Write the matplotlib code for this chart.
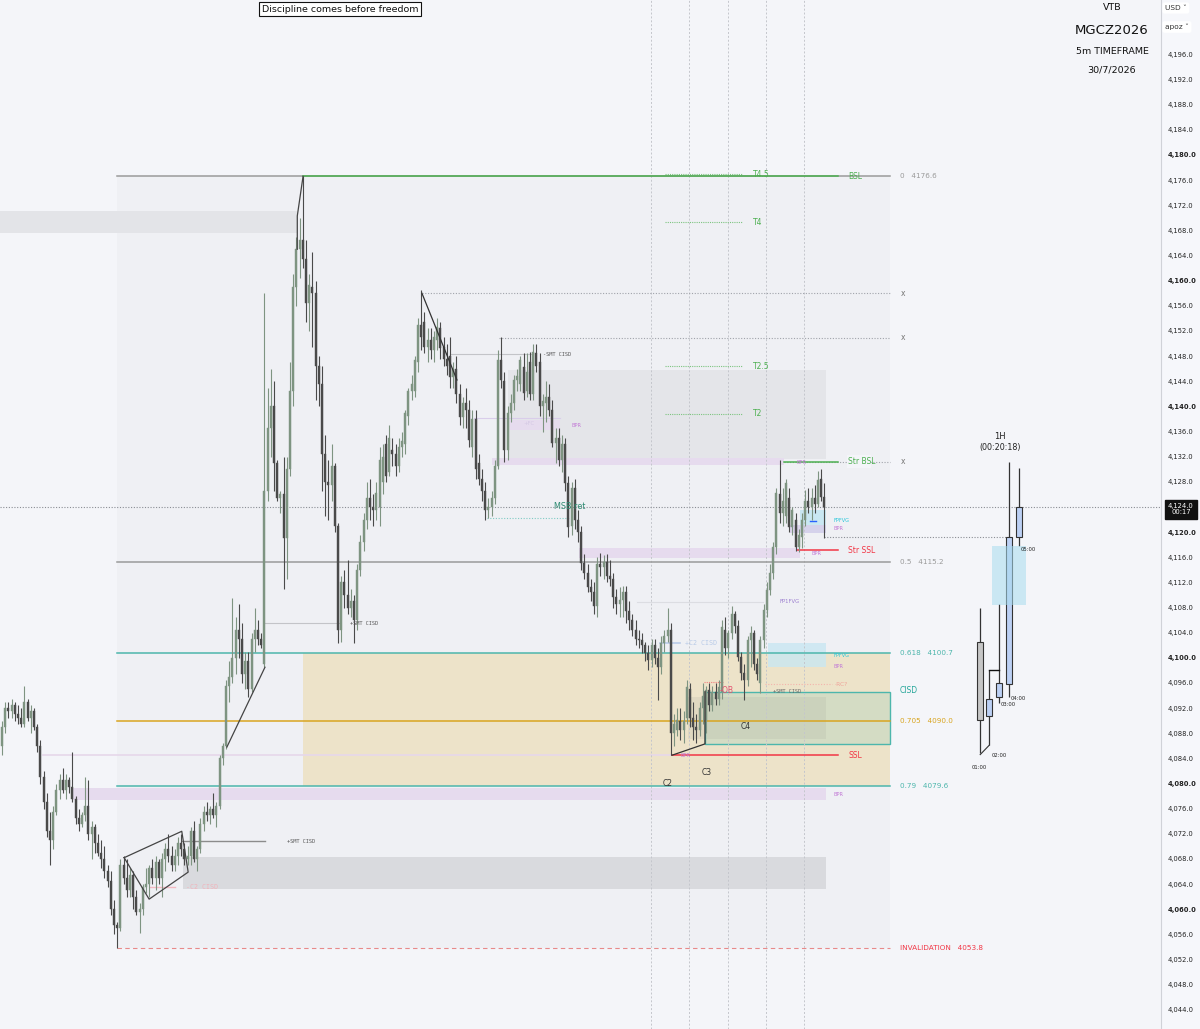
import matplotlib
matplotlib.use("Agg")
import matplotlib.pyplot as plt
import matplotlib.transforms as mtrans
from matplotlib.patches import Rectangle
import numpy as np

# ---------- 5m candles (MGCZ2026) ----------
opens = [
    4086, 4089, 4092, 4091.5, 4092.5, 4091, 4090.5, 4089.5, 4093, 4090.5,
    4091.5, 4089, 4086, 4081, 4077, 4072.5, 4071, 4075.5, 4079, 4080.5,
    4079, 4080.5, 4079.5, 4077.5, 4074.5, 4073.5, 4075, 4076.5, 4072, 4073,
    4070.5, 4069, 4068, 4066, 4064.5, 4060, 4057.5, 4057, 4067, 4065,
    4063, 4065.5, 4062, 4059.5, 4060, 4063.5, 4064, 4066.5, 4065, 4067.5,
    4065, 4068, 4069.5, 4068.5, 4067, 4068.5, 4070.5, 4069.5, 4068, 4068.5,
    4072.5, 4068, 4069.5, 4073.5, 4075.5, 4075, 4076, 4075, 4076.5, 4084,
    4086, 4095.5, 4097, 4100, 4104.5, 4103, 4097.5, 4099.5, 4095, 4103,
    4104.5, 4103, 4099, 4126.5, 4136.5, 4140, 4131, 4125.5, 4126, 4119,
    4130, 4142.5, 4159, 4165, 4166.5, 4163.5, 4156.5, 4159, 4158, 4146.5,
    4143.5, 4132.5, 4128, 4127.5, 4130.5, 4121, 4104.5, 4112, 4110, 4108,
    4109, 4106, 4114, 4118.5, 4122, 4125.5, 4124, 4123.5, 4124, 4128,
    4134, 4129.5, 4133, 4132.5, 4130.5, 4133.5, 4134, 4138.5, 4142.5, 4142.5,
    4147, 4153, 4153.5, 4149.5, 4150.5, 4149, 4150.5, 4152.5, 4149.5, 4147.5,
    4148, 4144.7, 4146, 4142, 4138.3, 4140.5, 4139.5, 4133.5, 4138, 4131,
    4128.5, 4126.5, 4123.5, 4124, 4125.5, 4130.5, 4147.4, 4144, 4133.1, 4139,
    4140.5, 4144.2, 4143.5, 4146.3, 4142.5, 4147, 4142, 4148.5, 4147, 4140,
    4140.5, 4141.5, 4139.5, 4134.2, 4135, 4131.5, 4134, 4127.8, 4121, 4127,
    4122, 4120, 4115.1, 4113.5, 4111.3, 4110.5, 4108.2, 4115, 4114.5, 4115.3,
    4113, 4112.5, 4109.7, 4108.5, 4109.2, 4110.5, 4107.5, 4106, 4104.4, 4103,
    4102.8, 4102, 4100.8, 4099.7, 4102, 4100, 4098.5, 4102.4, 4103.5, 4104.5,
    4088, 4088.5, 4090, 4088.5, 4090.5, 4095, 4090.5, 4089, 4088.5, 4092,
    4090, 4094.8, 4092.5, 4094.5, 4093.5, 4094.5, 4104.5, 4101.5, 4104, 4107,
    4105, 4100.1, 4097.6, 4096.5, 4102.8, 4104, 4099, 4096, 4102.8, 4107.6,
    4110.8, 4113.5, 4117.6, 4126, 4123, 4122.5, 4125.5, 4120.8, 4122, 4117.6,
    4119.2, 4122, 4125, 4124, 4125.5, 4124.5, 4128.5, 4125.6,
]
highs = [
    4090, 4093, 4093, 4093.5, 4093, 4092.5, 4092, 4095.5, 4093.5, 4092.5,
    4092, 4089.5, 4087, 4082, 4078.5, 4075.5, 4076.5, 4080, 4081.5, 4082.5,
    4081.5, 4081, 4085, 4078, 4076, 4075.5, 4081, 4080.5, 4074, 4073.5,
    4072, 4071, 4070, 4067, 4066, 4061.5, 4058, 4068, 4068.5, 4068,
    4066.5, 4066, 4063, 4061, 4064, 4066.5, 4067, 4068, 4068.5, 4068,
    4069, 4070.5, 4072, 4070, 4069.5, 4071.5, 4072, 4070.5, 4070, 4073,
    4074, 4070, 4074.5, 4076.5, 4077, 4076.5, 4078.5, 4077, 4084.5, 4086.5,
    4096.5, 4099.5, 4109.5, 4106.5, 4108.5, 4105.5, 4101, 4101, 4104, 4108,
    4106, 4104, 4158, 4143, 4146, 4144, 4131.5, 4126.5, 4132, 4132,
    4147, 4161, 4167, 4170, 4176.6, 4166.5, 4161, 4164.5, 4160, 4148,
    4146.5, 4135.5, 4131.5, 4134, 4131, 4121.5, 4113, 4114, 4115.5, 4111,
    4110, 4115, 4119.5, 4123, 4128, 4128.5, 4126, 4128, 4133.5, 4134,
    4135.5, 4137, 4135, 4134, 4135, 4136, 4139.5, 4143, 4145, 4148,
    4154, 4158.5, 4155, 4152.5, 4152.5, 4152, 4154, 4153.5, 4151, 4150,
    4151, 4147, 4148, 4143.5, 4141.5, 4143, 4141, 4139.5, 4139.5, 4132.5,
    4130, 4128, 4125.5, 4126.5, 4131.5, 4149, 4151, 4145.5, 4140, 4142,
    4145, 4146, 4148, 4148.5, 4148.5, 4148.7, 4150, 4150, 4148.5, 4142,
    4144, 4143.5, 4141, 4136.5, 4136.5, 4135.5, 4135, 4129, 4128, 4128.5,
    4123.5, 4121, 4116.5, 4115, 4112.5, 4112, 4116, 4116.7, 4116.3, 4116.5,
    4115.5, 4113.5, 4111, 4111.3, 4111.5, 4111.5, 4109, 4107, 4106, 4104.5,
    4104, 4102.5, 4102, 4103, 4103, 4101.5, 4103.5, 4104.5, 4108, 4105.5,
    4091, 4092, 4092, 4091.5, 4096.5, 4096, 4093, 4091, 4093, 4096,
    4095.5, 4096, 4095.5, 4096, 4096.5, 4106, 4106.5, 4104.5, 4108.2, 4107.5,
    4106, 4101, 4099, 4103.5, 4105, 4104.5, 4100, 4103.5, 4108.5, 4112,
    4115, 4118.5, 4127, 4131.5, 4127, 4128.5, 4127, 4124, 4123, 4120.5,
    4123, 4126.7, 4127, 4127, 4127.5, 4129.8, 4130, 4127.8,
]
lows = [
    4084.5, 4088, 4090.5, 4090.5, 4090, 4089.5, 4089, 4089, 4090, 4088,
    4088.5, 4085, 4080, 4076, 4071.5, 4067, 4069.5, 4075, 4077.5, 4078.5,
    4077.5, 4078.5, 4077, 4073.5, 4072.5, 4073, 4074, 4071, 4068, 4069,
    4068.5, 4066.5, 4065, 4063.5, 4059, 4056, 4053.8, 4056.5, 4064, 4062,
    4062, 4060, 4059, 4056.2, 4059, 4062.5, 4062, 4064, 4063, 4064,
    4062, 4066, 4067.5, 4066, 4066, 4067, 4068.5, 4067, 4067, 4067,
    4067.5, 4066, 4069, 4072.5, 4074, 4073.5, 4074.5, 4073, 4076, 4083,
    4085.5, 4093, 4096, 4097.5, 4100, 4096, 4095, 4093.8, 4094.5, 4101,
    4102, 4101.5, 4098.5, 4125, 4132, 4126.5, 4125, 4123, 4111, 4112.5,
    4129, 4140, 4156, 4160.5, 4162, 4153.5, 4152, 4149.5, 4141, 4140,
    4126.5, 4122.5, 4122, 4125, 4120, 4102.3, 4102.5, 4108, 4107, 4106.5,
    4102.4, 4104.5, 4113, 4117, 4120.5, 4122, 4121, 4122, 4121, 4126,
    4128, 4129, 4130.5, 4129, 4129.5, 4132, 4132.5, 4137, 4141, 4141.5,
    4145.5, 4149, 4148.5, 4147, 4147.5, 4147, 4149, 4147.5, 4146.5, 4145,
    4143, 4143, 4140.5, 4137, 4136.5, 4136.5, 4133.5, 4132, 4128.5, 4127.5,
    4125, 4122, 4122.2, 4122.5, 4124.5, 4130, 4143, 4131.2, 4131.5, 4137.5,
    4139.5, 4142.5, 4142.5, 4141, 4141.5, 4141, 4141, 4145.5, 4138.5, 4136,
    4137.5, 4138.5, 4133.5, 4131, 4130.5, 4129.5, 4126.5, 4119.2, 4119.5, 4120.5,
    4118.5, 4114, 4112.5, 4110.5, 4109, 4107, 4106.5, 4113, 4112.5, 4112,
    4111.5, 4108, 4107, 4106.5, 4106.5, 4105.5, 4104.5, 4103.5, 4102, 4101.5,
    4100.8, 4099.5, 4098, 4098.5, 4099, 4093.3, 4097.5, 4101, 4102.5, 4084.6,
    4086, 4087.5, 4087, 4086.5, 4089.5, 4089, 4087, 4086.5, 4087.5, 4089.5,
    4088, 4091.5, 4091.5, 4092.5, 4092.5, 4093.5, 4100.5, 4100, 4103, 4104,
    4099.5, 4096.5, 4093.3, 4095.5, 4098.5, 4098, 4096.5, 4094.4, 4101.5, 4106.5,
    4110, 4112.5, 4116.5, 4121.5, 4121, 4121.5, 4120, 4119.5, 4117, 4116.8,
    4117.5, 4121, 4123, 4122, 4123, 4124, 4125, 4119,
]
closes = [
    4089, 4092, 4091.5, 4092.5, 4091, 4090.5, 4089.5, 4093, 4090.5, 4091.5,
    4089, 4086, 4081, 4077, 4072.5, 4071, 4075.5, 4079, 4080.5, 4079,
    4080.5, 4079.5, 4077.5, 4074.5, 4073.5, 4075, 4076.5, 4072, 4073, 4070.5,
    4069, 4068, 4066, 4064.5, 4060, 4057.5, 4057, 4067, 4065, 4063,
    4065.5, 4062, 4059.5, 4060, 4063.5, 4064, 4066.5, 4065, 4067.5, 4065,
    4068, 4069.5, 4068.5, 4067, 4068.5, 4070.5, 4069.5, 4068, 4068.5, 4072.5,
    4068, 4069.5, 4073.5, 4075.5, 4075, 4076, 4075, 4076.5, 4084, 4086,
    4095.5, 4097, 4100, 4104.5, 4103, 4097.5, 4099.5, 4095, 4103, 4104.5,
    4103, 4102, 4126.5, 4136.5, 4140, 4131, 4125.5, 4126, 4119, 4130,
    4142.5, 4159, 4165, 4166.5, 4163.5, 4156.5, 4159.3, 4158, 4146.5, 4143.5,
    4132.5, 4128, 4127.5, 4130.5, 4121, 4104.5, 4112, 4110, 4108, 4109,
    4106, 4114, 4118.5, 4122, 4125.5, 4124, 4123.5, 4126.2, 4131.5, 4132,
    4129, 4135, 4132.5, 4130.5, 4133.5, 4134.5, 4139, 4142.5, 4143.5, 4147.4,
    4153, 4151, 4149.5, 4150.5, 4149, 4151, 4152.6, 4149.3, 4147.5, 4146.5,
    4144.7, 4146, 4142, 4138.3, 4140.5, 4139.5, 4134.7, 4138, 4130, 4128.5,
    4126.5, 4123.5, 4124, 4125.5, 4130.5, 4147.4, 4144.2, 4133.1, 4139, 4140.5,
    4144.2, 4144.8, 4147.4, 4142.1, 4145.5, 4142, 4148.7, 4146.5, 4140, 4140.8,
    4141.5, 4139.5, 4134.2, 4135, 4131.5, 4134, 4127.8, 4120.8, 4127, 4122,
    4120, 4115.1, 4113.5, 4111.3, 4110.5, 4108.2, 4115, 4114.5, 4115.3, 4113,
    4112.5, 4109.7, 4108.5, 4109.2, 4110.5, 4107.5, 4106, 4104.4, 4103, 4102.8,
    4102, 4100.8, 4099.7, 4102, 4100, 4098.5, 4102.4, 4103.5, 4104.5, 4088,
    4089.5, 4090.1, 4088.5, 4090, 4095.4, 4090.5, 4089, 4088.5, 4092, 4094,
    4094.8, 4092.5, 4094.5, 4093.5, 4095.4, 4104.9, 4101.5, 4104, 4107, 4105,
    4100.1, 4097.6, 4096.5, 4102.8, 4104, 4099, 4097.5, 4102.8, 4107.6, 4110.8,
    4113.5, 4117.6, 4126.2, 4123, 4125, 4127.8, 4120.8, 4123.5, 4117.6, 4119.5,
    4121.9, 4125, 4124, 4125.5, 4124.5, 4128.3, 4125.6, 4124,
]

# ---------- 1H widget ----------
h1_open = [4102.5, 4090.7, 4093.7, 4095.8, 4119.2]
h1_high = [4108.0, 4098.0, 4108.6, 4131.2, 4130.2]
h1_low = [4084.8, 4086.1, 4092.8, 4093.7, 4117.8]
h1_close = [4090.1, 4093.5, 4096.0, 4119.2, 4124.0]
h1_labels = ["01:00", "02:00", "03:00", "04:00", "05:00"]

# ---------- levels ----------
fib_levels = ["0", "0.5", "0.618", "0.705", "0.79"]
fib_prices = [4176.6, 4115.2, 4100.7, 4090.0, 4079.6]
fib_colors = ["#9a9a9a", "#9a9a9a", "#4db6ac", "#d9a520", "#4db6ac"]
invalidation = 4053.8
last_price = 4124.0
countdown = "00:17"
targets = ["T4.5", "T4", "T2.5", "T2"]
target_prices = [4176.9, 4169.3, 4146.4, 4138.8]
x_marks = [4158.0, 4150.9, 4131.2]
str_bsl, str_ssl, ssl = 4131.2, 4117.1, 4084.5
price_ticks = np.arange(4044, 4197, 4)

UP, DOWN = "#7e9481", "#4a4a4a"
BG = "#f4f5f9"
GREEN, RED, TEAL, PURPLE = "#4caf50", "#f23645", "#26a69a", "#c27ad6"

fig = plt.figure(figsize=(12, 10.29), dpi=100, facecolor="#f6f7fb")
ax = fig.add_axes([0, 0, 1161 / 1200, 1])
ax.set_facecolor(BG)
ax.set_xlim(-0.6, 362.2)
ax.set_ylim(4040.94, 4204.66)

R0, R1 = 35.9, 277.5   # fib range, left/right bar


def box(x0, x1, y0, y1, fc, z=1, **kw):
    ax.add_patch(Rectangle((x0, y0), x1 - x0, y1 - y0, facecolor=fc, edgecolor=kw.pop("ec", "none"),
                           zorder=z, **kw))


def hl(y, x0, x1, c, lw=1, ls="-", z=2):
    ax.plot([x0, x1], [y, y], color=c, lw=lw, ls=ls, zorder=z)


def lab(x, y, s, c, fs=5.5, ha="left", va="center", **kw):
    ax.text(x, y, s, color=c, fontsize=fs, ha=ha, va=va, zorder=6, **kw)


# zones
box(R0, R1, invalidation, fib_prices[0], "#eff0f4", z=0.5)
box(-0.6, 92.2, 4167.6, 4171.1, "#e3e4e8")
box(158.1, 257.5, 4131.7, 4145.8, "#e4e5e9")
box(56.6, 257.5, 4063.2, 4068.3, "#d9dade")
box(94.1, R1, fib_prices[4], fib_prices[2], "#ede3c9")
box(219.7, R1, 4086.3, 4094.6, "#d4dcc4", z=1.2, ec="#4db6ac", lw=1)
box(214.4, 257.5, 4087.1, 4093.7, "#8a8a8a", z=1.3, alpha=0.12)
box(239.4, 257.5, 4098.5, 4102.4, "#c9e7f2", z=1.3, alpha=0.8)
box(249.4, 257.5, 4119.9, 4123.5, "#c9e7f2", z=1.3)
box(246.3, 257.5, 4119.9, 4121.1, "#d9cdea", z=1.35, alpha=0.8)
# BPR bands
box(153.0, 244.4, 4130.6, 4131.8, "#e6dbee", z=1.4)
box(158.75, 174.4, 4136.2, 4137.8, "#e6dbee", z=1.4)
box(180.3, 249.4, 4115.9, 4117.5, "#e6dbee", z=1.4)
box(21.9, 257.5, 4077.4, 4079.3, "#e6dbee", z=1.4)
hl(4138.1, 147.5, 174.4, "#d9cdea", lw=0.8)
hl(ssl, 12.8, 209.4, "#e6d7ea", lw=1.2, z=1.5)

# hourly separators
for k in range(5):
    ax.axvline(202.75 + 12 * k, color="#c4c6cc", lw=0.7, ls=(0, (2, 2)), zorder=1.6)

# fib lines + labels
for lvl, p, c in zip(fib_levels, fib_prices, fib_colors):
    hl(p, R0, R1, c, lw=1.1)
    lab(280.6, p, f"{lvl}   {p:.1f}", c, fs=5.2)
hl(invalidation, R0, R1, "#e88a8a", lw=0.8, ls=(0, (4, 3)))
lab(280.6, invalidation, f"INVALIDATION   {invalidation:.1f}", RED, fs=5.2)
hl(fib_prices[0], 94.1, 261.2, GREEN, lw=1.1, z=2.1)
lab(264.4, fib_prices[0], "BSL", GREEN)

# targets
for t, p in zip(targets, target_prices):
    hl(p, 207.2, 231.25, "#7cc47f", lw=0.8, ls=(0, (1, 1)))
    lab(234.7, p, t, GREEN, fs=5.5)

# swing levels
for p, x0 in zip(x_marks, [131.25, 155.3, 244.4]):
    hl(p, x0, R1, "#a0a3aa", lw=0.8, ls=(0, (1, 1.5)))
    lab(281.0, p, "x", "#777", fs=5.5)
hl(str_bsl, 244.4, 261.2, GREEN, lw=1.1, z=2.2)
box(264.0, 271.5, str_bsl - 1, str_bsl + 1, BG, z=2.3)
lab(264.4, str_bsl, "Str BSL", GREEN)
hl(str_ssl, 248.4, 261.2, RED, lw=1.1)
lab(264.4, str_ssl, "Str SSL", RED)
hl(ssl, 209.4, 261.2, RED, lw=1.1)
lab(264.4, ssl, "SSL", RED)
lab(280.6, 4094.8, "CISD", TEAL)

# current price / 1H open
ax.axhline(last_price, color="#8a8d94", lw=0.8, ls=(0, (1, 1.5)), zorder=2)
hl(4119.2, 256.9, 314.6, "#8a8d94", lw=0.8, ls=(0, (1, 1.5)))
hl(4122.2, 151.6, 177.5, "#80cbc4", lw=0.8, ls=(0, (1, 1.5)))
hl(4108.9, 198.4, 237.8, "#dcdde2", lw=0.8)
hl(4096.2, 219.3, 225.6, "#f08080", lw=0.8, ls=(0, (1, 1)))
hl(4095.8, 238.4, 259.5, "#f4b4ac", lw=0.8, ls=(0, (1, 1.5)))
hl(4102.4, 205.6, 211.9, "#b9cbe8", lw=1.2)
hl(4063.5, 46.25, 54.1, "#f3b9c1", lw=1.0)
hl(4070.8, 56.25, 82.2, "#8c8c8c", lw=1.0)
hl(4105.5, 82.2, 105.6, "#c3c4c8", lw=0.8)
hl(4148.3, 140.0, 166.0, "#c3c4c8", lw=0.8)
hl(4121.8, 252.5, 254.5, "#2962ff", lw=1.0, z=2.5)

# drawn structure lines
ax.plot([92.3, 92.3, 94.1], [4165.0, 4170.3, fib_prices[0]], color="#444", lw=0.9, zorder=4)
ax.plot([131.25, 142.2], [4158.0, 4144.2], color="#333", lw=0.9, zorder=4)
ax.plot([70.3, 82.2], [4085.8, 4098.5], color="#444", lw=0.9, zorder=4)
ax.plot([38.2, 56.2, 58.2, 46.0, 38.2], [4068.2, 4072.4, 4065.9, 4061.6, 4068.2],
        color="#444", lw=0.9, zorder=4)
ax.plot([209.4, 219.7, 219.7], [ssl, 4086.3, 4094.6], color="#333", lw=0.9, zorder=4)

# candles
x = np.arange(len(closes))
o, h, l, c = map(np.asarray, (opens, highs, lows, closes))
col = np.where(c >= o, UP, DOWN)
ax.vlines(x, l, h, colors=col, lw=0.8, zorder=3)
ax.bar(x, np.maximum(np.abs(c - o), 0.15), bottom=np.minimum(o, c), width=0.62,
       color=col, edgecolor=col, lw=0.3, zorder=3.1)

# small annotation texts
mono = dict(family="DejaVu Sans Mono")
lab(89.1, 4070.8, "+SMT CISD", "#555", fs=3.8, **mono)
lab(108.8, 4105.5, "+SMT CISD", "#555", fs=3.8, **mono)
lab(169.1, 4148.3, "-SMT CISD", "#555", fs=3.8, **mono)
lab(240.9, 4094.6, "+SMT CISD", "#666", fs=3.8, **mono)
lab(57.5, 4063.5, "-C2 CISD", "#f1b3bb", fs=4.8, **mono)
lab(213.5, 4102.4, "+C2 CISD", "#b9cbe8", fs=4.8, **mono)
lab(163.0, 4137.2, "+FC", "#d4c8e4", fs=3.8)
lab(224.4, 4094.8, "-OB", "#e2536f", fs=5.5)
lab(260.3, 4095.8, "-RC?", "#f0a49a", fs=4.2)
lab(177.5, 4124.0, "MSB ret", "#2e8b72", fs=5.8, ha="center")
lab(232.5, 4089.0, "C4", "#333", fs=5.5, ha="center")
lab(220.3, 4081.8, "C3", "#333", fs=5.5, ha="center")
lab(208.1, 4080.0, "C2", "#333", fs=5.5, ha="center")
lab(242.9, 4108.9, "FP1FVG", "#9c7fd0", fs=3.8)
for xx, yy, s, cc in [(260.0, 4121.8, "FPFVG", "#26c6da"), (260.0, 4100.3, "FPFVG", "#26c6da"),
                      (178.1, 4137.0, "BPR", PURPLE), (248.4, 4131.0, "BPR", PURPLE),
                      (253.1, 4116.6, "BPR", PURPLE), (260.0, 4120.6, "BPR", PURPLE),
                      (260.0, 4098.6, "BPR", PURPLE), (260.0, 4078.3, "BPR", PURPLE),
                      (211.9, 4084.4, "BPR", PURPLE)]:
    lab(xx, yy, s, cc, fs=3.6)

# 1H widget
hx = 305.5 + 3.05 * np.arange(5)
ho, hh, hlw, hc = map(np.asarray, (h1_open, h1_high, h1_low, h1_close))
hcol = np.where(hc >= ho, "#bcd0f4", "#c6c6c6")
ax.vlines(hx, hlw, hh, colors="#333", lw=0.9, zorder=3)
ax.bar(hx, np.abs(hc - ho), bottom=np.minimum(ho, hc), width=1.9, color=hcol,
       edgecolor="#333", lw=0.8, zorder=3.2)
box(309.5, 319.9, 4108.4, 4117.8, "#a9dcef", z=3.3, alpha=0.55)
ax.plot([hx[1], hx[2]], [h1_high[1], h1_high[1]], color="#111", lw=1.0, zorder=3.4)
ax.plot([hx[0] + 0.2, hx[1]], [h1_low[0] - 0.2, h1_low[1]], color="#333", lw=0.8, zorder=3.4)
for xx, s, yy in zip(hx, h1_labels, [4083.0, 4084.8, 4093.0, 4094.0, 4117.6]):
    ax.text(xx + (0 if s == "01:00" else 0.6), yy, s, fontsize=3.8, color="#222",
            ha="center" if s == "01:00" else "left", va="top", zorder=6)
ax.text(311.9, 4135.2, "1H", fontsize=6, color="#222", ha="center", va="center")
ax.text(311.9, 4133.4, "(00:20:18)", fontsize=5.8, color="#222", ha="center", va="center")

# header
ax.text(340 / 1161, 1 - 9 / 1029, "Discipline comes before freedom", transform=ax.transAxes,
        fontsize=6.8, ha="center", va="center", color="#111",
        bbox=dict(boxstyle="square,pad=0.3", fc="white", ec="#111", lw=0.8))
for s, yy, fs in [("VTB", 8, 6.8), ("MGCZ2026", 30, 9.5), ("5m TIMEFRAME", 52, 6.8), ("30/7/2026", 70, 6.8)]:
    ax.text(1112 / 1161, 1 - yy / 1029, s, transform=ax.transAxes, fontsize=fs,
            ha="center", va="center", color="#111")

# price scale on the right (the last-price tag replaces its own tick)
ax.yaxis.tick_right()
ax.set_yticks(price_ticks)
ax.set_yticklabels(["" if v == last_price else f"{v:,.1f}" for v in price_ticks])
ax.tick_params(axis="y", length=0, pad=5, labelsize=4.9, labelcolor="#222")
for t, v in zip(ax.get_yticklabels(), price_ticks):
    if v % 20 == 0:
        t.set_fontweight("bold")
ax.set_xticks([])
for s in ["top", "bottom", "left"]:
    ax.spines[s].set_visible(False)
ax.spines["right"].set_color("#d0d2d8")

tr = mtrans.blended_transform_factory(fig.transFigure, ax.transData)
fig.text(1181 / 1200, last_price - 0.4, f"{last_price:,.1f}\n{countdown}", transform=tr,
         fontsize=4.9, color="white", ha="center", va="center", linespacing=1.0,
         bbox=dict(boxstyle="square,pad=0.45", fc="#111", ec="#111"))
for s, yy in [("USD \u02c5", 8), ("apoz \u02c5", 27)]:
    fig.text(1165 / 1200, 1 - yy / 1029, s, fontsize=5.3, color="#333", ha="left", va="center",
             bbox=dict(boxstyle="round,pad=0.35,rounding_size=0.3", fc="white", ec="none"))

fig.savefig("out.png", dpi=100, facecolor=fig.get_facecolor())
